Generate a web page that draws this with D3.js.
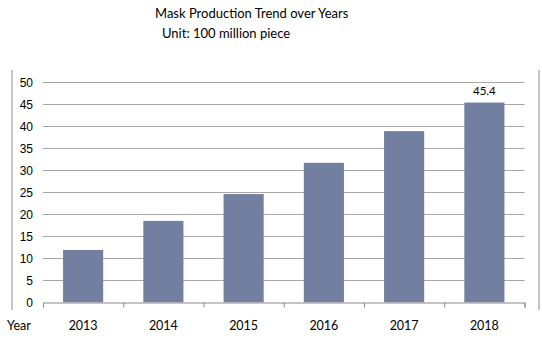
<!DOCTYPE html>
<html>
<head>
<meta charset="utf-8">
<script src="https://cdn.jsdelivr.net/npm/d3@7"></script>
<style>
  body { margin: 0; background: #fff; }
  svg { display: block; }
  .title { font-family: Lato, "Open Sans", sans-serif; font-size: 13px; fill: #000; }
  .ylab text { font-family: "Liberation Sans", Arial, sans-serif; font-size: 12px; fill: #000; }
  .xlab text { font-family: Lato, "Open Sans", sans-serif; font-size: 12.5px; fill: #000; }
</style>
</head>
<body>
<svg width="542" height="341"></svg>
<script>
// chart data
let years = ["2013", "2014", "2015", "2016", "2017", "2018"];
let production = [11.9, 18.5, 24.6, 31.7, 38.9, 45.4];
let yTicks = [0, 5, 10, 15, 20, 25, 30, 35, 40, 45, 50];
let labelled = ["2018"]; // only the last bar carries its value

let svg = d3.select("svg");

let plot = { left: 43, right: 524.5, top: 82.3, bottom: 302.3 };

let x = d3.scaleBand()
  .domain(years)
  .range([plot.left, plot.right])
  .paddingInner(0.5)
  .paddingOuter(0.25);

let y = d3.scaleLinear()
  .domain([0, 50])
  .range([plot.bottom, plot.top]);

// frame lines left and right
[12, 539].forEach(function(fx) {
  svg.append("line")
    .attr("x1", fx).attr("x2", fx)
    .attr("y1", 70).attr("y2", 310)
    .attr("stroke", "#8a8a8a")
    .attr("stroke-width", 1);
});

// title
svg.append("text")
  .attr("class", "title")
  .attr("x", 155)
  .attr("y", 18)
  .text("Mask Production Trend over Years");

svg.append("text")
  .attr("class", "title")
  .attr("x", 162)
  .attr("y", 38)
  .text("Unit: 100 million piece");

// gridlines
svg.append("g")
  .selectAll("line")
  .data(yTicks.filter(d => d > 0))
  .enter()
  .append("line")
  .attr("x1", plot.left)
  .attr("x2", plot.right)
  .attr("y1", d => Math.round(y(d)) + 0.5)
  .attr("y2", d => Math.round(y(d)) + 0.5)
  .attr("stroke", "#a6a6a6")
  .attr("stroke-width", 1);

// y axis labels
let yAxis = svg.append("g")
  .attr("class", "ylab")
  .attr("transform", "translate(" + (plot.left - 10) + ",0)")
  .call(d3.axisLeft(y).tickValues(yTicks).tickSize(0).tickPadding(0));
yAxis.select(".domain").remove();

// bars
svg.append("g")
  .selectAll("rect")
  .data(years)
  .enter()
  .append("rect")
  .attr("x", d => x(d))
  .attr("y", (d, i) => y(production[i]))
  .attr("width", x.bandwidth())
  .attr("height", (d, i) => y(0) - y(production[i]))
  .attr("fill", "#737fa1");

// value label
svg.append("g")
  .selectAll("text")
  .data(years.filter(d => labelled.includes(d)))
  .enter()
  .append("text")
  .attr("x", d => x(d) + x.bandwidth() / 2)
  .attr("y", d => y(production[years.indexOf(d)]) - 8)
  .attr("text-anchor", "middle")
  .style("font-family", "Lato, 'Open Sans', sans-serif")
  .style("font-size", "11.5px")
  .text(d => production[years.indexOf(d)]);

// x axis baseline with ticks at band edges
let edges = d3.scaleLinear().domain([0, years.length]).range([plot.left, plot.right]);
let base = svg.append("g")
  .attr("transform", "translate(0," + (Math.round(plot.bottom) + 0.5) + ")")
  .call(d3.axisBottom(edges).ticks(years.length).tickSize(5).tickFormat("").tickSizeOuter(5));
base.selectAll("line, path").attr("stroke", "#8a8a8a");

// x axis labels
let xAxis = svg.append("g")
  .attr("class", "xlab")
  .attr("transform", "translate(0,321)")
  .call(d3.axisBottom(x).tickSize(0).tickPadding(0));
xAxis.select(".domain").remove();

svg.append("text")
  .attr("x", 7)
  .attr("y", 330)
  .style("font-family", "Lato, 'Open Sans', sans-serif")
  .style("font-size", "12.5px")
  .text("Year");
</script>
</body>
</html>
